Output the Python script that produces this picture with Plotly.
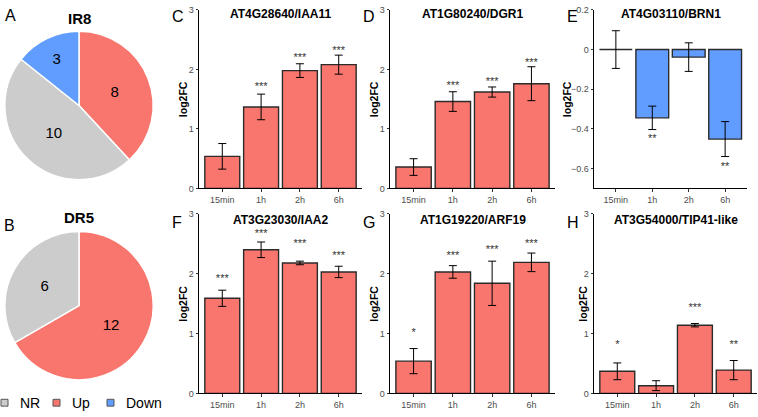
import plotly.graph_objects as go

# FIGURE SIZE (px)
W, H = 758, 417

# PIE DATA
ir8_labels = ["Up", "NR", "Down"]
ir8_counts = [8, 10, 3]
dr5_labels = ["Up", "NR"]
dr5_counts = [12, 6]
legend_labels = ["NR", "Up", "Down"]
status_colors = {"NR": "#CCCCCC", "Up": "#F8766D", "Down": "#619CFF"}

# BAR DATA
times = ["15min", "1h", "2h", "6h"]

iaa11_mean = [0.54, 1.37, 1.98, 2.08]
iaa11_se = [0.215, 0.215, 0.115, 0.16]
iaa11_sig = ["", "***", "***", "***"]
iaa11_sig_y = [None, 1.70, 2.19, 2.30]

dgr1_mean = [0.36, 1.46, 1.62, 1.76]
dgr1_se = [0.14, 0.165, 0.085, 0.285]
dgr1_sig = ["", "***", "***", "***"]
dgr1_sig_y = [None, 1.71, 1.78, 2.10]

brn1_mean = [0.0, -0.344, -0.038, -0.451]
brn1_se = [0.095, 0.059, 0.072, 0.088]
brn1_sig = ["", "**", "", "**"]
brn1_sig_y = [None, -0.453, None, -0.592]

iaa2_mean = [1.59, 2.40, 2.18, 2.03]
iaa2_se = [0.135, 0.13, 0.03, 0.095]
iaa2_sig = ["***", "***", "***", "***"]
iaa2_sig_y = [1.90, 2.66, 2.50, 2.30]

arf19_mean = [0.54, 2.03, 1.84, 2.19]
arf19_se = [0.21, 0.105, 0.37, 0.155]
arf19_sig = ["*", "***", "***", "***"]
arf19_sig_y = [1.00, 2.30, 2.40, 2.50]

tip41_mean = [0.37, 0.13, 1.14, 0.39]
tip41_se = [0.14, 0.083, 0.028, 0.16]
tip41_sig = ["*", "", "***", "**"]
tip41_sig_y = [0.81, None, 1.42, 0.81]

# PANEL SETUP
# (letter, title, mean, se, sig, sig_y, colour, yrange, dtick, box px [x0,x1,y0,y1])
panels = [
    ("C", "AT4G28640/IAA11", iaa11_mean, iaa11_se, iaa11_sig, iaa11_sig_y, "Up", [0, 3], 1, [199, 362, 5, 188]),
    ("D", "AT1G80240/DGR1", dgr1_mean, dgr1_se, dgr1_sig, dgr1_sig_y, "Up", [0, 3], 1, [390, 555, 5, 188]),
    ("E", "AT4G03110/BRN1", brn1_mean, brn1_se, brn1_sig, brn1_sig_y, "Down", [-0.7, 0.2], 0.2, [594, 747, 5, 188]),
    ("F", "AT3G23030/IAA2", iaa2_mean, iaa2_se, iaa2_sig, iaa2_sig_y, "Up", [0, 3], 1, [199, 362, 214, 398]),
    ("G", "AT1G19220/ARF19", arf19_mean, arf19_se, arf19_sig, arf19_sig_y, "Up", [0, 3], 1, [390, 555, 214, 398]),
    ("H", "AT3G54000/TIP41-like", tip41_mean, tip41_se, tip41_sig, tip41_sig_y, "Up", [0, 3], 1, [594, 757, 214, 398]),
]

FONT = "Liberation Sans, Arial, sans-serif"

fig = go.Figure()
annotations = []
shapes = []


def note(text, x, y, size, xanchor="center", angle=0):
    # pixel position -> paper annotation
    return dict(text=text, x=x / W, y=1 - y / H, xref="paper", yref="paper",
                xanchor=xanchor, yanchor="middle", showarrow=False, textangle=angle,
                font=dict(size=size, color="black", family=FONT))


# PIES
for labels, counts, (py0, py1) in [(ir8_labels, ir8_counts, (27, 179)),
                                   (dr5_labels, dr5_counts, (232, 384))]:
    fig.add_trace(go.Pie(
        labels=labels, values=counts, sort=False, direction="clockwise", rotation=0,
        marker=dict(colors=[status_colors[l] for l in labels], line=dict(color="white", width=1.5)),
        textinfo="value", textposition="inside", insidetextorientation="horizontal",
        textfont=dict(size=15, color="black", family=FONT),
        domain=dict(x=[3 / W, 155 / W], y=[1 - py1 / H, 1 - py0 / H]), showlegend=False))

annotations.append(note("<b>IR8</b>", 79, 14, 15))
annotations.append(note("<b>DR5</b>", 79, 218, 15))
annotations.append(note("A", 3, 11, 16, "left"))
annotations.append(note("B", 2, 226, 16, "left"))

# manual legend under the pies
leg_x = [1, 53, 107]
for lab, lx in zip(legend_labels, leg_x):
    shapes.append(dict(type="rect", xref="paper", yref="paper",
                       x0=lx / W, x1=(lx + 7) / W, y0=1 - 411 / H, y1=1 - 404 / H,
                       fillcolor=status_colors[lab], line=dict(color="#555555", width=1)))
    annotations.append(note(lab, lx + 17, 407.5, 14, "left"))

# BARS
layout_axes = {}
for i, (letter, title, mean, se, sig, sig_y, col, yr, dt, box) in enumerate(panels, start=1):
    x0, x1, y0, y1 = box
    xa = "x" if i == 1 else "x%d" % i
    ya = "y" if i == 1 else "y%d" % i
    fig.add_trace(go.Bar(
        x=times, y=mean, width=0.9, xaxis=xa, yaxis=ya,
        marker=dict(color=status_colors[col], line=dict(color="#2b2b2b", width=1.4)),
        error_y=dict(type="data", array=se, color="black", thickness=1, width=4),
        showlegend=False))
    fig.add_trace(go.Scatter(
        x=times, y=sig_y, text=sig, mode="text", xaxis=xa, yaxis=ya,
        textfont=dict(size=11, color="#333333", family=FONT), showlegend=False))
    kx = "xaxis" if i == 1 else "xaxis%d" % i
    ky = "yaxis" if i == 1 else "yaxis%d" % i
    layout_axes[kx] = dict(domain=[x0 / W, x1 / W], anchor=ya, type="category", range=[-0.6, 3.6],
                           showline=True, linecolor="black", linewidth=1, ticks="outside", ticklen=2.5,
                           tickcolor="#333333", tickfont=dict(size=9, color="#4D4D4D", family=FONT),
                           showgrid=False, zeroline=False, fixedrange=True)
    layout_axes[ky] = dict(domain=[1 - y1 / H, 1 - y0 / H], anchor=xa, range=yr, dtick=dt,
                           showline=True, linecolor="black", linewidth=1, ticks="outside", ticklen=2.5,
                           tickcolor="#333333", tickfont=dict(size=9, color="#4D4D4D", family=FONT),
                           showgrid=False, zeroline=False, fixedrange=True)
    # title, panel letter, y label
    ty = 9.5 if y0 < 100 else 220.5
    annotations.append(note("<b>%s</b>" % title, (x0 + x1) / 2, ty, 12))
    annotations.append(note(letter, x0 - 29, ty + 2.5, 16, "left"))
    lx = x0 - (27 if letter == "E" else 11 if letter == "H" else 16)
    annotations.append(note("<b>log2FC</b>", lx, (y0 + y1) / 2, 10.5, angle=-90))

fig.update_layout(
    width=W, height=H, margin=dict(l=0, r=0, t=0, b=0),
    paper_bgcolor="white", plot_bgcolor="white",
    font=dict(family=FONT), bargap=0.1,
    annotations=annotations, shapes=shapes, **layout_axes)

# page body has a default 8px margin; drop it so the figure fills the window
fig.write_html("out.html", config={"displayModeBar": False},
               post_script="document.body.style.margin='0';document.body.style.overflow='hidden';")
